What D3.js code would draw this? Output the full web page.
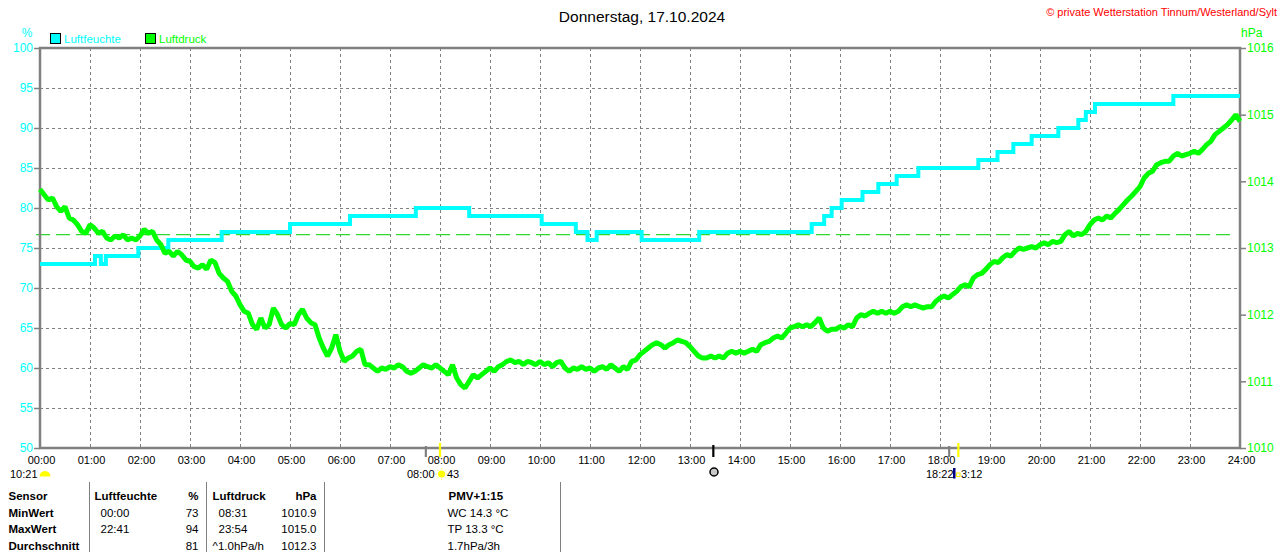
<!DOCTYPE html>
<html><head><meta charset="utf-8">
<script src="https://cdn.jsdelivr.net/npm/d3@7"></script>
<style>
body{margin:0;background:#fff;}
svg{display:block;font-family:"Liberation Sans",Arial,sans-serif;}
</style>
</head><body>
<svg id="c" width="1280" height="552"></svg>
<script>
// ---------- data ----------
const title = "Donnerstag, 17.10.2024";
const copyright = "\u00A9 private Wetterstation Tinnum/Westerland/Sylt";
const hourLabels = ["00:00","01:00","02:00","03:00","04:00","05:00","06:00","07:00","08:00","09:00","10:00","11:00",
  "12:00","13:00","14:00","15:00","16:00","17:00","18:00","19:00","20:00","21:00","22:00","23:00","24:00"];
const humTicks = [50,55,60,65,70,75,80,85,90,95,100];
const presTicks = [1010,1011,1012,1013,1014,1015,1016];
const seriesNames = ["Luftfeuchte","Luftdruck"];

// Luftfeuchte (%): step change times and values
const humTimes = ["00:00","01:06","01:13","01:19","01:58","02:34","03:38","05:00","06:12","07:31","08:35","10:02",
  "10:43","10:57","11:08","12:02","13:11","15:26","15:41","15:50","16:02","16:27","16:46","17:08","17:34",
  "18:46","19:09","19:28","19:50","20:22","20:46","20:55","21:06","22:40","24:00"];
const humValues = [73,74,73,74,75,76,77,78,79,80,79,78,
  77,76,77,76,77,78,79,80,81,82,83,84,85,
  86,87,88,89,90,91,92,93,94,94];

// Luftdruck (hPa): one reading every 5 minutes, 00:00 .. 24:00
const presStepMinutes = 5;
const pressure = [
 1013.88,1013.80,1013.72,1013.75,1013.62,1013.55,1013.62,1013.45,1013.42,1013.35,1013.25,1013.22,
 1013.35,1013.30,1013.22,1013.25,1013.15,1013.12,1013.18,1013.15,1013.20,1013.12,1013.15,1013.12,
 1013.18,1013.28,1013.22,1013.25,1013.12,1013.05,1012.92,1012.95,1012.88,1012.95,1012.90,1012.82,
 1012.80,1012.72,1012.70,1012.75,1012.68,1012.82,1012.78,1012.62,1012.55,1012.50,1012.35,1012.28,
 1012.15,1012.05,1012.02,1011.85,1011.78,1011.95,1011.80,1011.85,1012.10,1012.00,1011.85,1011.80,
 1011.87,1011.85,1012.00,1012.08,1011.95,1011.88,1011.85,1011.65,1011.50,1011.38,1011.50,1011.70,
 1011.45,1011.30,1011.35,1011.38,1011.45,1011.48,1011.25,1011.25,1011.20,1011.15,1011.20,1011.18,
 1011.22,1011.20,1011.25,1011.22,1011.15,1011.12,1011.15,1011.20,1011.25,1011.22,1011.20,1011.25,
 1011.20,1011.15,1011.10,1011.25,1011.05,1010.95,1010.90,1011.00,1011.10,1011.05,1011.10,1011.15,
 1011.20,1011.15,1011.22,1011.25,1011.30,1011.32,1011.28,1011.30,1011.25,1011.30,1011.28,1011.25,
 1011.30,1011.25,1011.28,1011.22,1011.28,1011.30,1011.20,1011.15,1011.20,1011.18,1011.22,1011.18,
 1011.20,1011.15,1011.20,1011.22,1011.18,1011.25,1011.20,1011.15,1011.22,1011.18,1011.30,1011.32,
 1011.40,1011.45,1011.50,1011.55,1011.58,1011.55,1011.50,1011.55,1011.58,1011.62,1011.60,1011.58,
 1011.52,1011.45,1011.38,1011.35,1011.35,1011.38,1011.35,1011.38,1011.35,1011.42,1011.45,1011.42,
 1011.45,1011.42,1011.45,1011.48,1011.45,1011.55,1011.58,1011.60,1011.65,1011.68,1011.65,1011.72,
 1011.80,1011.82,1011.85,1011.82,1011.85,1011.82,1011.88,1011.95,1011.80,1011.75,1011.78,1011.78,
 1011.82,1011.80,1011.85,1011.82,1011.95,1012.00,1011.98,1012.02,1012.05,1012.02,1012.05,1012.02,
 1012.05,1012.02,1012.05,1012.12,1012.15,1012.12,1012.15,1012.12,1012.10,1012.12,1012.12,1012.20,
 1012.25,1012.28,1012.25,1012.30,1012.35,1012.42,1012.45,1012.42,1012.55,1012.60,1012.62,1012.68,
 1012.75,1012.80,1012.78,1012.85,1012.90,1012.88,1012.95,1013.00,1012.98,1013.00,1013.02,1013.00,
 1013.05,1013.08,1013.05,1013.10,1013.08,1013.10,1013.20,1013.25,1013.18,1013.22,1013.20,1013.25,
 1013.35,1013.42,1013.45,1013.42,1013.48,1013.45,1013.52,1013.58,1013.65,1013.72,1013.78,1013.85,
 1013.92,1014.05,1014.12,1014.15,1014.25,1014.28,1014.30,1014.30,1014.38,1014.42,1014.38,1014.40,
 1014.42,1014.45,1014.42,1014.48,1014.55,1014.60,1014.70,1014.75,1014.80,1014.85,1014.92,1015.00,
 1014.90];
const presReference = 1013.2;

// sun / moon markers on the time axis
const markerTimes = ["07:43","08:00","13:28","18:11","18:22"];
const markerKinds = ["dawn","sunrise","noon","dusk","sunset"];

// statistics table
const tableHeader = ["Sensor","Luftfeuchte","%","Luftdruck","hPa"];
const tableRowNames = ["MinWert","MaxWert","Durchschnitt"];
const humTimeCol = ["00:00","22:41",""];
const humValCol = ["73","94","81"];
const presTimeCol = ["08:31","23:54","^1.0hPa/h"];
const presValCol = ["1010.9","1015.0","1012.3"];
const extraHeader = "PMV+1:15";
const extraLines = ["WC 14.3 \u00B0C","TP 13.3 \u00B0C","1.7hPa/3h"];

// ---------- drawing ----------
const CYAN = "#00FFFF", GREEN = "#00FF00", GRAY = "#808080";
const svg = d3.select("#c");
const toMin = s => { const [h,m] = s.split(":").map(Number); return h*60+m; };

const x = d3.scaleLinear().domain([0,1440]).range([40,1240]);
const yH = d3.scaleLinear().domain([50,100]).range([448,48]);
const yP = d3.scaleLinear().domain([1010,1016]).range([448,48]);

// grid
const grid = svg.append("g");
grid.selectAll("line.v").data(d3.range(1,24)).join("line")
  .attr("x1", d => x(d*60)).attr("x2", d => x(d*60)).attr("y1",48).attr("y2",448)
  .attr("stroke",GRAY).attr("stroke-width",1).attr("stroke-dasharray","3,3").attr("shape-rendering","crispEdges");
grid.selectAll("line.h").data(humTicks.filter(d => d>50 && d<100)).join("line")
  .attr("y1", d => yH(d)+0.5).attr("y2", d => yH(d)+0.5).attr("x1",40).attr("x2",1240)
  .attr("stroke",GRAY).attr("stroke-width",1).attr("stroke-dasharray","3,3").attr("shape-rendering","crispEdges");

// reference pressure dashed line
svg.append("line").attr("x1",36).attr("x2",1232).attr("y1",yP(presReference)).attr("y2",yP(presReference))
  .attr("stroke","#30d830").attr("stroke-width",1.3).attr("stroke-dasharray","14,6");

// frame
svg.append("rect").attr("x",40).attr("y",48).attr("width",1200).attr("height",400)
  .attr("fill","none").attr("stroke",GRAY).attr("stroke-width",2.5);

// axes
const styleAxis = (g, color, fs) => {
  g.select(".domain").remove();
  g.selectAll(".tick line").attr("stroke",GRAY).attr("stroke-width",1.5);
  g.selectAll("text").attr("fill",color).attr("font-size",fs).attr("font-family","Liberation Sans, Arial, sans-serif");
};
svg.append("g").attr("transform","translate(40,0)")
  .call(d3.axisLeft(yH).tickValues(humTicks).tickSize(6).tickPadding(1).tickFormat(d3.format("d")))
  .call(g => styleAxis(g, CYAN, "12px"));
svg.append("g").attr("transform","translate(1240,0)")
  .call(d3.axisRight(yP).tickValues(presTicks).tickSize(6).tickPadding(1).tickFormat(d3.format("d")))
  .call(g => styleAxis(g, GREEN, "12px"));
svg.append("g").attr("transform","translate(1,449)")
  .call(d3.axisBottom(x).tickValues(d3.range(0,25).map(h => h*60)).tickSize(0).tickPadding(7)
    .tickFormat((d,i) => hourLabels[i]))
  .call(g => styleAxis(g, "#000", "11px"));

// unit labels + legend
svg.append("text").attr("x",27).attr("y",33).attr("text-anchor","middle").attr("dominant-baseline","central")
  .attr("font-size","12px").attr("fill",CYAN).text("%");
svg.append("text").attr("x",1241).attr("y",33).attr("dominant-baseline","central")
  .attr("font-size","12px").attr("fill",GREEN).text("hPa");
const legend = svg.append("g");
[[50,CYAN],[145,GREEN]].forEach(([lx,col],i) => {
  legend.append("rect").attr("x",lx+0.5).attr("y",33.5).attr("width",10).attr("height",10)
    .attr("fill",col).attr("stroke","#000").attr("stroke-width",1);
  legend.append("text").attr("x",lx+14).attr("y",38.5).attr("dominant-baseline","central")
    .attr("font-size","11.5px").attr("fill",col).text(seriesNames[i]);
});

// title & copyright
svg.append("text").attr("x",642).attr("y",16).attr("text-anchor","middle").attr("dominant-baseline","central")
  .attr("font-size","15.5px").attr("fill","#000").text(title);
svg.append("text").attr("x",1277).attr("y",12).attr("text-anchor","end").attr("dominant-baseline","central")
  .attr("font-size","11px").attr("fill","#FF0000").text(copyright);

// humidity line
const humData = humTimes.map((t,i) => ({t: toMin(t), v: humValues[i]}));
svg.append("path").datum(humData)
  .attr("d", d3.line().x(d => x(d.t)).y(d => yH(d.v)).curve(d3.curveStepAfter))
  .attr("fill","none").attr("stroke",CYAN).attr("stroke-width",4);

// pressure line
const presData = pressure.map((v,i) => ({t: i*presStepMinutes, v}));
svg.append("path").datum(presData)
  .attr("d", d3.line().x(d => x(d.t)).y(d => yP(d.v)))
  .attr("fill","none").attr("stroke",GREEN).attr("stroke-width",5).attr("stroke-linejoin","bevel");

// markers on x axis
const markerStyle = {dawn:[GRAY,446], sunrise:["#FFFF00",443], noon:["#000",445], dusk:[GRAY,446], sunset:["#FFFF00",443]};
markerTimes.forEach((t,i) => {
  const [col,top] = markerStyle[markerKinds[i]];
  svg.append("line").attr("x1",x(toMin(t))).attr("x2",x(toMin(t))).attr("y1",top).attr("y2",457)
    .attr("stroke",col).attr("stroke-width",2.2);
});

// row under axis: sun/moon info
const info = svg.append("g").attr("font-size","11px").attr("fill","#000");
info.append("text").attr("x",10).attr("y",474).attr("dominant-baseline","central").text("10:21");
info.append("path").attr("d","M39.5,476.5 A5.5,5.5 0 0 1 50.5,476.5 Z").attr("fill","#FFFF00");
info.append("text").attr("x",407).attr("y",474).attr("dominant-baseline","central").text("08:00");
const sx = x(toMin(markerTimes[1]))+1.5, sy = 474;
info.append("circle").attr("cx",sx).attr("cy",sy).attr("r",3.6).attr("fill","#FFFF00");
d3.range(8).forEach(k => {
  const a = k*Math.PI/4;
  info.append("line").attr("x1",sx+Math.cos(a)*4.5).attr("y1",sy+Math.sin(a)*4.5)
    .attr("x2",sx+Math.cos(a)*6).attr("y2",sy+Math.sin(a)*6).attr("stroke","#FFEE66").attr("stroke-width",1);
});
info.append("text").attr("x",447).attr("y",474).attr("dominant-baseline","central").text("43");
info.append("circle").attr("cx",714).attr("cy",472).attr("r",4).attr("fill","#c8c8c8").attr("stroke","#000").attr("stroke-width",1.5);
info.append("text").attr("x",926).attr("y",474).attr("dominant-baseline","central").text("18:22");
info.append("rect").attr("x",953).attr("y",468).attr("width",2.5).attr("height",10.5).attr("fill","#000080");
info.append("rect").attr("x",956.5).attr("y",473).attr("width",3.5).attr("height",3.5).attr("fill","none").attr("stroke","#FFEE00").attr("stroke-width",1);
info.append("text").attr("x",961).attr("y",474).attr("dominant-baseline","central").text("3:12");

// statistics table
const tbl = svg.append("g").attr("font-size","11.5px").attr("fill","#000");
const rowY = [495.5,512.5,529,545.5];
[89,206,324,560].forEach(lx => tbl.append("line").attr("x1",lx+0.5).attr("x2",lx+0.5).attr("y1",482).attr("y2",552)
  .attr("stroke",GRAY).attr("stroke-width",1));
const T = (tx,ty,s,anchor,bold) => tbl.append("text").attr("x",tx).attr("y",ty).attr("dominant-baseline","central")
  .attr("text-anchor",anchor||"start").attr("font-weight",bold?"bold":"normal").text(s);
T(8.5,rowY[0],tableHeader[0],"start",true);
T(94.5,rowY[0],tableHeader[1],"start",true);
T(198.5,rowY[0],tableHeader[2],"end",true);
T(212.5,rowY[0],tableHeader[3],"start",true);
T(316.5,rowY[0],tableHeader[4],"end",true);
T(448.5,rowY[0],extraHeader,"start",true);
tableRowNames.forEach((n,i) => {
  const ry = rowY[i+1];
  T(8.5,ry,n,"start",true);
  T(100.5,ry,humTimeCol[i]);
  T(198.5,ry,humValCol[i],"end");
  T(i===2?212.5:218.5,ry,presTimeCol[i]);
  T(316.5,ry,presValCol[i],"end");
  T(447.5,ry,extraLines[i]);
});
</script>
</body></html>
